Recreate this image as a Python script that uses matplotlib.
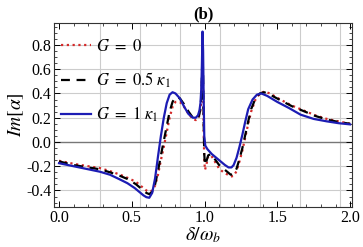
import matplotlib
matplotlib.use("Agg")
import matplotlib.pyplot as plt
import numpy as np

plt.rcParams['font.family'] = ['Liberation Serif', 'DejaVu Serif']
plt.rcParams['mathtext.fontset'] = 'stix'
plt.rcParams['axes.unicode_minus'] = False

# G = 1 kappa_1
x_g1 = [0.00, 0.10, 0.20, 0.28, 0.35, 0.42, 0.47, 0.52, 0.56, 0.58, 0.60, 0.62, 0.64, 0.66,
        0.68, 0.70, 0.72, 0.74, 0.76, 0.78, 0.80, 0.83, 0.86, 0.89, 0.92, 0.94, 0.955, 0.965,
        0.972, 0.978, 0.982, 0.986, 0.99, 0.994, 0.998, 1.005, 1.02, 1.05, 1.08, 1.11, 1.14,
        1.165, 1.185, 1.20, 1.22, 1.24, 1.26, 1.28, 1.30, 1.33, 1.36, 1.39, 1.43, 1.50, 1.58,
        1.66, 1.75, 1.84, 1.92, 2.00]
y_g1 = [-0.175, -0.20, -0.225, -0.245, -0.27, -0.31, -0.34, -0.38, -0.42, -0.44, -0.455, -0.46,
        -0.42, -0.30, -0.12, 0.05, 0.20, 0.32, 0.39, 0.41, 0.40, 0.36, 0.29, 0.23, 0.20, 0.20,
        0.22, 0.26, 0.32, 0.45, 0.65, 0.91, 0.75, 0.35, 0.05, -0.03, -0.06, -0.10, -0.13, -0.16,
        -0.19, -0.21, -0.21, -0.19, -0.13, -0.04, 0.06, 0.17, 0.27, 0.35, 0.39, 0.40, 0.38, 0.33,
        0.28, 0.225, 0.19, 0.17, 0.155, 0.145]

# G = 0 and G = 0.5 kappa_1 share the same sample points
x_g0 = [0.00, 0.10, 0.20, 0.28, 0.35, 0.42, 0.48, 0.53, 0.57, 0.60, 0.62, 0.64, 0.66, 0.68,
        0.70, 0.72, 0.74, 0.76, 0.78, 0.80, 0.83, 0.86, 0.89, 0.92, 0.94, 0.955, 0.965, 0.972,
        0.978, 0.982, 0.986, 0.99, 0.994, 0.998, 1.003, 1.01, 1.025, 1.045, 1.07, 1.10, 1.13,
        1.16, 1.18, 1.20, 1.22, 1.24, 1.26, 1.28, 1.30, 1.32, 1.35, 1.38, 1.41, 1.45, 1.52,
        1.60, 1.68, 1.76, 1.84, 1.92, 2.00]
y_g0 = [-0.155, -0.18, -0.20, -0.215, -0.24, -0.27, -0.30, -0.33, -0.37, -0.40, -0.41, -0.40,
        -0.36, -0.27, -0.15, -0.04, 0.08, 0.20, 0.29, 0.33, 0.33, 0.29, 0.23, 0.19, 0.18, 0.19,
        0.22, 0.27, 0.35, 0.50, 0.65, 0.45, 0.10, -0.15, -0.23, -0.20, -0.12, -0.11, -0.16,
        -0.22, -0.25, -0.27, -0.285, -0.28, -0.24, -0.16, -0.07, 0.04, 0.15, 0.25, 0.35, 0.40,
        0.415, 0.40, 0.35, 0.30, 0.26, 0.22, 0.19, 0.17, 0.15]
y_g05 = [-0.16, -0.19, -0.21, -0.225, -0.25, -0.28, -0.31, -0.35, -0.39, -0.42, -0.43, -0.41,
         -0.35, -0.24, -0.11, 0.01, 0.13, 0.25, 0.33, 0.37, 0.36, 0.31, 0.25, 0.20, 0.19, 0.20,
         0.23, 0.28, 0.38, 0.55, 0.76, 0.55, 0.15, -0.10, -0.19, -0.17, -0.11, -0.10, -0.14,
         -0.19, -0.22, -0.25, -0.27, -0.265, -0.22, -0.14, -0.05, 0.06, 0.17, 0.27, 0.36, 0.40,
         0.41, 0.39, 0.345, 0.295, 0.255, 0.215, 0.185, 0.165, 0.15]

fig = plt.figure(figsize=(3.63, 2.47), dpi=100)
ax = fig.add_axes([0.149, 0.162, 0.821, 0.745])

# grid like the mathematica frame
for gx in 0.282 + 0.275 * np.arange(7):
    ax.axvline(gx, color='#cccccc', lw=0.8, zorder=0)
for gy in [-0.4, -0.2, 0.2, 0.4, 0.6, 0.8]:
    ax.axhline(gy, color='#cccccc', lw=0.8, zorder=0)
ax.axhline(0.0, color='#777777', lw=1.0, zorder=0)

ax.plot(x_g0, y_g0, color='#d42a2a', lw=1.6, linestyle=(0, (1, 1.6)), label=r'$G\ =\ 0$')
ax.plot(x_g0, y_g05, color='black', lw=1.6, linestyle=(0, (4, 3)), label=r'$G\ =\ 0.5\ \kappa_1$')
ax.plot(x_g1, y_g1, color='#1c1cb4', lw=1.6, label=r'$G\ =\ 1\ \kappa_1$')

ax.set_xlim(-0.034, 2.014)
ax.set_ylim(-0.536, 0.981)
ax.set_xticks([0.0, 0.5, 1.0, 1.5, 2.0])
ax.set_xticklabels(['0.0', '0.5', '1.0', '1.5', '2.0'])
ax.set_yticks([-0.4, -0.2, 0.0, 0.2, 0.4, 0.6, 0.8])
ax.set_yticklabels(['-0.4', '-0.2', '0.0', '0.2', '0.4', '0.6', '0.8'])
ax.set_xticks(np.arange(0, 2.01, 0.1), minor=True)
ax.set_yticks(np.arange(-0.5, 0.96, 0.05), minor=True)
ax.tick_params(which='both', direction='in', top=True, right=True, labelsize=11.5, pad=2)
ax.tick_params(which='major', length=4, width=0.7)
ax.tick_params(which='minor', length=2, width=0.5)
for s in ax.spines.values():
    s.set_color('#333333')
    s.set_linewidth(0.8)

ax.set_xlabel(r'$\delta/\omega_b$', fontsize=14, labelpad=0)
ax.set_ylabel(r'$Im[\alpha]$', fontsize=14, labelpad=0)
ax.set_title('(b)', fontsize=12, fontweight='bold', pad=3)

ax.legend(loc='upper left', bbox_to_anchor=(0.0, 0.95), frameon=False, fontsize=12,
          labelspacing=0.95, handlelength=1.8, handletextpad=0.3, borderaxespad=0.1,
          borderpad=0.3)

fig.savefig('out.png', dpi=100)
